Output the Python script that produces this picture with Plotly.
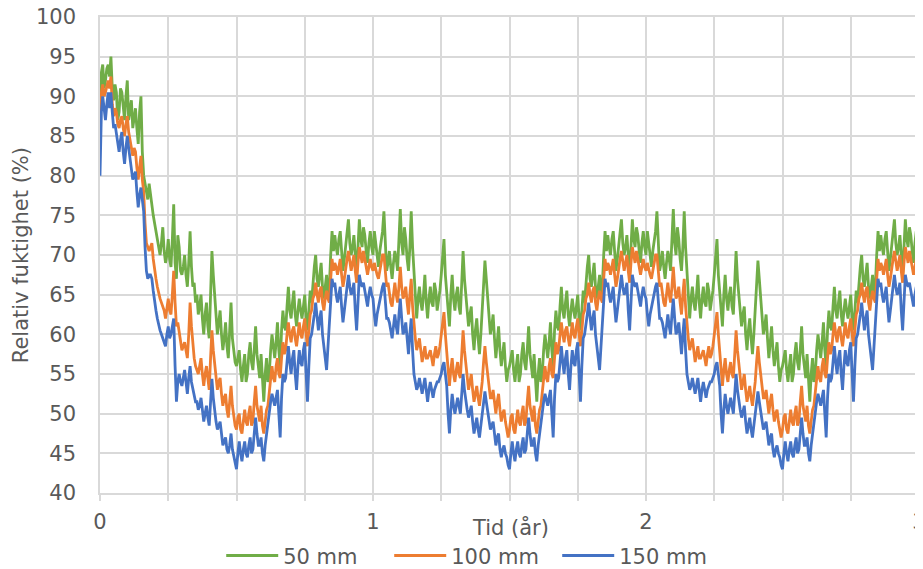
import plotly.graph_objects as go

# Start-up period t = 0.000 .. 0.495
start_50 = [88, 93, 94, 91, 92, 93.5, 94, 92.5, 95, 91,
            89.5, 91.5, 90.5, 87, 88, 91, 90.5, 88.5, 87, 90,
            92, 87, 88.5, 89.5, 86, 87, 88.5, 86, 84, 88,
            90, 83, 80, 79, 78, 77, 79, 77.5, 76, 75,
            74, 73, 72.5, 71, 70, 71.5, 73.5, 70.5, 69, 70,
            72, 69.5, 68.5, 72, 76.4, 69, 67, 72.5, 71, 68,
            67.5, 68.5, 70, 67.5, 66, 69, 73, 68.5, 66, 66.5,
            64, 65, 62.5, 63.5, 65, 62, 60, 62.5, 64, 61,
            59.5, 65, 70.5, 67.5, 65, 61.5, 60, 61.5, 63, 60,
            58, 59.5, 61.5, 58.5, 57, 60.5, 64, 59.5, 57.5, 56.5]
start_100 = [88, 90.5, 91.5, 90, 90.5, 91.5, 92, 91, 92.5, 89,
             87.5, 88.5, 88, 86.5, 86, 87, 87.5, 86, 85, 86.5,
             87.5, 85.5, 84.5, 83, 82.5, 83.5, 83, 81, 79.5, 81,
             82.5, 79.5, 78, 74, 71.5, 71, 70.5, 71, 71.5, 69.5,
             68, 67, 66, 65, 64.5, 64, 63.5, 63, 62, 63,
             64.5, 63, 62.5, 65, 68, 64, 61, 61.5, 60.5, 59,
             58, 58.5, 59, 58, 57, 60, 64, 61, 58.5, 57,
             56, 55.5, 55, 56, 57, 55, 53.5, 55, 56, 54.5,
             53, 57, 60.5, 58, 56, 54.5, 53, 54, 54.5, 52.5,
             51, 52, 52.5, 50.5, 49.5, 51.5, 53.5, 51, 49.5, 48.5]
start_150 = [80, 88, 90, 88.5, 87, 89, 90.5, 88.5, 90.5, 88,
             86, 86.5, 85.5, 84, 83, 84.5, 85.5, 83, 81.5, 83.5,
             85, 83.5, 82, 80.5, 79.5, 80, 80.5, 78, 76, 77.5,
             78.5, 77, 75.5, 71, 68, 67, 67.5, 67.5, 67, 65.5,
             64, 63, 62, 61, 60.5, 60, 59.5, 59, 58.5, 60,
             61, 59.5, 60, 61, 62, 56, 51.5, 54, 55, 54,
             53.5, 54.5, 55.5, 54, 52.5, 54.5, 56, 54, 53, 52,
             51.5, 51.5, 50.5, 51, 52, 50.5, 49, 50, 51, 49.5,
             48.5, 51.5, 54.4, 52, 50, 49, 48, 48.5, 49, 47.5,
             46, 46.5, 47, 45.5, 45, 46, 47.5, 45.5, 44.5, 43.5]

# Yearly pattern t = 0.500 .. 1.495 (the same climate year repeats for 1.5 .. 3.0)
year_50 = [56, 57, 58, 55.5, 54, 56, 57.5, 54, 55, 57.5,
           59, 56.5, 55.5, 58, 61, 57.5, 56, 54.5, 57.5, 54,
           51.5, 55, 57, 54, 55, 58, 60, 58.5, 57, 59,
           61.5, 58, 56, 60.5, 63, 61, 60.5, 63.5, 66, 63,
           62, 64, 65.5, 62.5, 61, 63, 64.5, 63, 62, 63.5,
           65, 62, 60.5, 63, 65.5, 64, 67, 68.5, 70, 67,
           66, 68, 69, 66, 64.5, 66, 67.5, 65, 66, 70,
           73, 70.5, 72.5, 71, 70, 72, 73, 70.5, 68, 69.5,
           71.5, 73, 74.5, 71.5, 70, 71, 72.5, 70, 67.5, 71,
           74.5, 72, 71, 73.5, 72.5, 70.5, 69, 71.5, 73, 71,
           70, 73, 71.5, 69.5, 68.5, 70.5, 72, 73, 75.5, 70.5,
           68, 69, 70.5, 68.5, 67, 69, 70.5, 69.5, 68, 72,
           75.8, 71.5, 70, 73.5, 72, 69.5, 68, 71, 75.5, 71,
           68, 64.5, 62, 64.5, 66, 64, 63, 65, 67.5, 64,
           62, 64.5, 66, 64, 63.5, 66.5, 65.5, 63, 64, 65.5,
           67.5, 69.5, 72, 67.5, 65, 63, 61, 65, 67.5, 64.5,
           63, 65, 66, 63.5, 62.5, 66.5, 70.5, 67, 65, 63,
           61, 62.5, 63.5, 60, 58, 60.5, 62, 59.5, 57.5, 60,
           63, 66, 69.3, 67, 65, 62, 60, 61, 62.5, 59.5,
           57, 59, 61, 58, 56, 57.5, 59, 56, 54, 55.5]
year_100 = [48, 49.5, 50, 48, 47.5, 49, 50.5, 49, 48.5, 50,
            51, 48.5, 49, 51.5, 53.5, 51, 50, 49, 51, 48.5,
            47.5, 49.5, 50.5, 51, 52.5, 54.5, 56, 54.5, 54, 56,
            57, 55, 54.5, 57, 59, 57.5, 58, 60, 61.5, 60,
            59, 60.5, 61, 59.5, 58.5, 60, 61.5, 60, 59.5, 61,
            62, 60, 58.5, 60.5, 62.5, 63, 64.5, 65, 66.5, 65,
            64, 65.5, 66, 64, 63, 64.5, 65.5, 64.5, 64, 67,
            69.5, 68, 69, 68.5, 67.5, 68.5, 69.5, 67.5, 66, 67,
            68.5, 69.5, 70.5, 69, 68, 69, 70, 68, 66.5, 69,
            71, 70, 69, 70.5, 69.5, 68.5, 67.5, 68.5, 69.5, 68.5,
            68, 69, 68, 67.5, 67, 68, 69, 70, 70, 67.5,
            66, 66.5, 65, 64, 63.5, 65, 66.5, 65, 64, 66,
            68.5, 66, 64.5, 65, 66, 64, 62.5, 65, 67, 63.5,
            61, 59.5, 58, 59, 59.5, 58, 56.5, 57.5, 58.5, 57,
            57, 57.5, 58, 57, 56, 57.5, 58.5, 57, 57.5, 58.5,
            60, 61.5, 62.8, 60, 58, 55.5, 53.5, 55.5, 57, 55,
            54, 55.5, 56.5, 55, 54.5, 57.5, 60.5, 58, 56, 54.5,
            53, 54, 55, 53, 51.5, 52.5, 53.5, 52, 51, 52.5,
            54, 56.5, 58.5, 56.5, 55, 53.5, 52, 52, 53, 51.5,
            50, 51.5, 52.5, 50.5, 49, 50, 50.5, 49, 48, 47]
year_150 = [43, 45, 46.5, 45, 44, 45.5, 46.5, 45, 44.5, 46,
            47, 45, 45.5, 47.5, 49.5, 47.5, 46, 46, 47, 45,
            44, 46, 47.5, 48.5, 50, 51.5, 52.5, 51.5, 51, 52,
            53, 50, 47, 52, 55, 54, 54.5, 56.5, 58.5, 56.5,
            55, 57, 58, 55, 53, 56, 58, 56.5, 56, 58,
            59, 55, 51.5, 56, 59.5, 60, 61, 62.5, 64, 62,
            60.5, 62, 63, 60, 58, 57, 55.5, 58.5, 61, 64.5,
            67, 66, 66.5, 65, 64, 65, 66, 63.5, 61.5, 63,
            64.5, 66.5, 67.5, 66, 65, 65.5, 66.5, 63, 60.5, 64,
            67.5, 66.5, 66, 66.5, 65.5, 64.5, 63.5, 65, 66, 65,
            64.5, 62.5, 61, 62.5, 63.5, 64.5, 65, 66, 66.5, 64,
            62, 62, 61.5, 60.5, 59.5, 61, 62.5, 61, 60, 62.5,
            64.5, 62, 60, 60.5, 61.5, 59.5, 57.5, 60, 62, 58,
            55, 54, 53, 53.5, 54.5, 53.5, 52.5, 53.5, 54.5, 53,
            51.5, 53, 54, 53, 52, 53, 53.5, 54, 54, 54.5,
            55, 56, 56.5, 55, 53.5, 50, 47.5, 50.5, 52.5, 51,
            50, 51, 52, 51, 50, 52.5, 55, 53, 51.5, 50.5,
            49.5, 50.5, 51, 49, 47.5, 48.5, 49.5, 48, 47, 48.5,
            50, 51.5, 52.8, 51.5, 50.5, 49, 48, 48.5, 49, 47.5,
            46, 47, 47.5, 45.5, 44.5, 45.5, 46, 45, 44.5, 43.5]

assert len(start_50) == len(start_100) == len(start_150) == 100
assert len(year_50) == len(year_100) == len(year_150) == 200

series_names = ["50 mm", "100 mm", "150 mm"]
series_colors = ["#70AD47", "#ED7D31", "#4472C4"]

rh_50 = start_50 + year_50 + year_50 + year_50[:101]
rh_100 = start_100 + year_100 + year_100 + year_100[:101]
rh_150 = start_150 + year_150 + year_150 + year_150[:101]
time_years = [round(i * 0.005, 3) for i in range(len(rh_50))]

x_tickvals = [i * 0.25 for i in range(13)]
x_ticktext = [str(int(v)) if v == int(v) else "" for v in x_tickvals]

FONT = "Verdana, DejaVu Sans, sans-serif"
GREY = "#595959"
GRID = "#d9d9d9"

fig = go.Figure()
for name, color, vals in zip(series_names, series_colors, [rh_50, rh_100, rh_150]):
    fig.add_trace(go.Scatter(x=time_years, y=vals, mode="lines", name=name,
                             line=dict(color=color, width=2.8)))

# The page body has an 8px default margin, so the figure is sized to fit the window.
fig.update_layout(
    width=915, height=561,
    margin=dict(l=92, r=4, t=9, b=76, autoexpand=False),
    plot_bgcolor="white", paper_bgcolor="white",
    font=dict(family=FONT, size=21, color=GREY),
    hovermode=False,
    legend=dict(orientation="h", x=0.148, xanchor="left", y=-0.132, yanchor="middle",
                font=dict(family=FONT, size=21, color=GREY), itemwidth=52,
                entrywidth=101, bgcolor="rgba(0,0,0,0)"),
    xaxis=dict(range=[0, 3], tickvals=x_tickvals, ticktext=x_ticktext, automargin=False,
               showgrid=True, gridcolor=GRID, gridwidth=1.5, zeroline=False,
               showline=True, mirror=True, linecolor=GRID, linewidth=1.5,
               ticks="outside", ticklen=6, tickcolor=GRID, tickwidth=1.5,
               ticklabelstandoff=3, ticklabeloverflow="allow",
               tickfont=dict(family=FONT, size=21, color=GREY)),
    yaxis=dict(range=[40, 100], dtick=5, tick0=40, automargin=False,
               showgrid=True, gridcolor=GRID, gridwidth=1.5, zeroline=False,
               showline=True, mirror=True, linecolor=GRID, linewidth=1.5,
               ticks="", ticklabelstandoff=18, ticklabeloverflow="allow",
               tickfont=dict(family=FONT, size=21, color=GREY)),
    annotations=[
        dict(text="Tid (år)", xref="paper", yref="paper", x=0.501, y=-0.0735,
             xanchor="center", yanchor="middle", showarrow=False,
             font=dict(family=FONT, size=21, color=GREY)),
        dict(text="Relativ fuktighet (%)", xref="paper", yref="paper", x=-0.0962, y=0.5,
             xanchor="center", yanchor="middle", showarrow=False, textangle=-90,
             font=dict(family=FONT, size=21, color=GREY)),
    ],
)

fig.write_html("out.html")
